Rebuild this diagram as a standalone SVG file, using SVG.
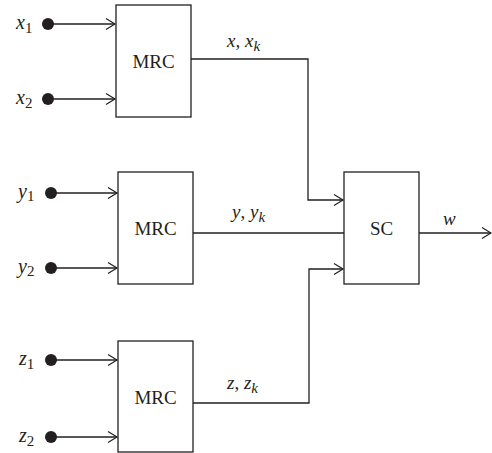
<svg xmlns="http://www.w3.org/2000/svg" width="492" height="453" viewBox="0 0 492 453">
<defs>
<style>
.box{fill:#fff;stroke:#231f20;stroke-width:1.3}
.ln{fill:none;stroke:#231f20;stroke-width:1.3}
.t{font-family:"Liberation Serif","Times New Roman",serif;fill:#231f20}
.it{font-style:italic}
.dot{fill:#231f20}
</style>
<marker id="arr" markerWidth="12" markerHeight="14" refX="10" refY="7" orient="auto" markerUnits="userSpaceOnUse">
<path d="M1,1.5 L10,7 L1,12.5" fill="none" stroke="#231f20" stroke-width="1.2"/>
</marker>
</defs>
<rect width="492" height="453" fill="#fff"/>
<g id="connectors">
<path class="ln" d="M48,24 H115" marker-end="url(#arr)"/>
<path class="ln" d="M48,99 H115" marker-end="url(#arr)"/>
<path class="ln" d="M51,193 H117" marker-end="url(#arr)"/>
<path class="ln" d="M51,268 H117" marker-end="url(#arr)"/>
<path class="ln" d="M51,360 H117" marker-end="url(#arr)"/>
<path class="ln" d="M51,437 H117" marker-end="url(#arr)"/>
<path class="ln" d="M191,59 H308 V200 H343" marker-end="url(#arr)"/>
<path class="ln" d="M193,233 H344"/>
<path class="ln" d="M193,403 H309 V269 H343" marker-end="url(#arr)"/>
<path class="ln" d="M419,233 H491" marker-end="url(#arr)"/>
</g>
<g id="in-x1"><circle class="dot" cx="48" cy="24" r="6"/><text class="t" x="16" y="29" font-size="20"><tspan class="it">x</tspan><tspan font-size="15" dy="4">1</tspan></text></g>
<g id="in-x2"><circle class="dot" cx="48" cy="99" r="6"/><text class="t" x="16" y="104" font-size="20"><tspan class="it">x</tspan><tspan font-size="15" dy="4">2</tspan></text></g>
<g id="in-y1"><circle class="dot" cx="51" cy="193" r="6"/><text class="t" x="18" y="198" font-size="20"><tspan class="it">y</tspan><tspan font-size="15" dy="3">1</tspan></text></g>
<g id="in-y2"><circle class="dot" cx="51" cy="268" r="6"/><text class="t" x="18" y="273" font-size="20"><tspan class="it">y</tspan><tspan font-size="15" dy="3">2</tspan></text></g>
<g id="in-z1"><circle class="dot" cx="51" cy="360" r="6"/><text class="t" x="19" y="365" font-size="20"><tspan class="it">z</tspan><tspan font-size="15" dy="4">1</tspan></text></g>
<g id="in-z2"><circle class="dot" cx="51" cy="437" r="6"/><text class="t" x="19" y="442" font-size="20"><tspan class="it">z</tspan><tspan font-size="15" dy="4">2</tspan></text></g>
<g id="mrc1"><rect class="box" x="116" y="5" width="75" height="112"/><text class="t" x="153.5" y="68" font-size="19" text-anchor="middle">MRC</text></g>
<g id="mrc2"><rect class="box" x="118" y="172" width="75" height="112"/><text class="t" x="155.5" y="235" font-size="19" text-anchor="middle">MRC</text></g>
<g id="mrc3"><rect class="box" x="118" y="341" width="75" height="111"/><text class="t" x="155.5" y="404" font-size="19" text-anchor="middle">MRC</text></g>
<g id="sc"><rect class="box" x="344" y="172" width="75" height="112"/><text class="t" x="381.5" y="235" font-size="19" text-anchor="middle">SC</text></g>
<g id="labels">
<text class="t" x="227" y="47" font-size="19"><tspan class="it">x</tspan>, <tspan class="it">x</tspan><tspan class="it" font-size="15" dy="4">k</tspan></text>
<text class="t" x="232" y="218" font-size="19"><tspan class="it">y</tspan>, <tspan class="it">y</tspan><tspan class="it" font-size="15" dy="4">k</tspan></text>
<text class="t" x="227" y="389" font-size="19"><tspan class="it">z</tspan>, <tspan class="it">z</tspan><tspan class="it" font-size="15" dy="4">k</tspan></text>
<text class="t it" x="443" y="225" font-size="19">w</text>
</g>
</svg>
